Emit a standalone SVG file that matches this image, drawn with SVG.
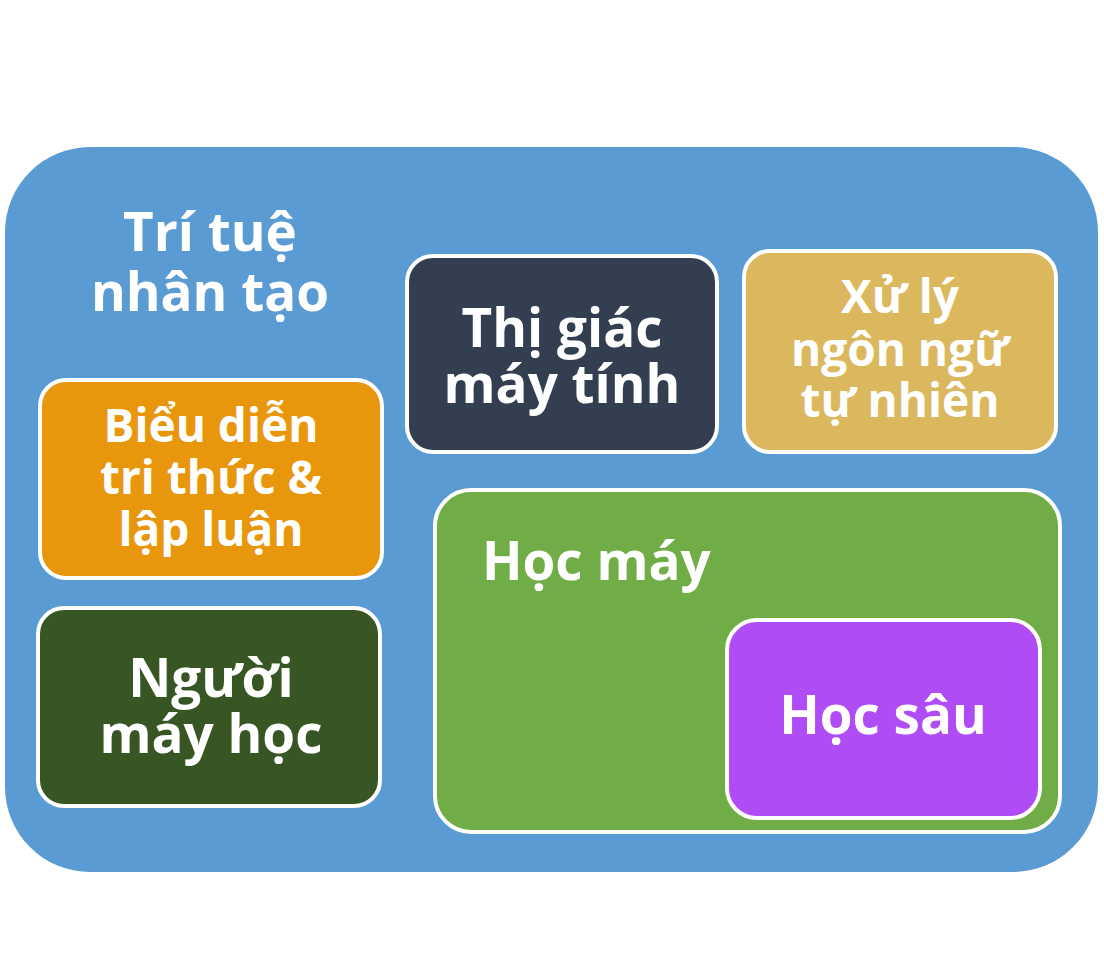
<svg xmlns="http://www.w3.org/2000/svg" width="1104" height="976" viewBox="0 0 1104 976">
<style>
.t{font-family:"Open Sans","Noto Sans","DejaVu Sans",sans-serif;font-weight:700;fill:#ffffff;text-anchor:middle}
.n{stroke:#ffffff;stroke-width:4}
</style>
<rect width="1104" height="976" fill="#ffffff"/>
<g id="ai">
<rect x="5" y="147" width="1093" height="725" rx="85" fill="#5b9bd3"/>
<text class="t" font-size="53" x="210" y="251">Trí tuệ</text>
<text class="t" font-size="53" x="210" y="311">nhân tạo</text>
</g>
<g id="knowledge">
<rect class="n" x="40" y="380" width="342" height="198" rx="26" fill="#e8960c"/>
<text class="t" font-size="46" x="211" y="442">Biểu diễn</text>
<text class="t" font-size="46" x="211" y="494">tri thức &amp;</text>
<text class="t" font-size="46" x="211" y="546">lập luận</text>
</g>
<g id="robotics">
<rect class="n" x="38" y="608" width="342" height="198" rx="26" fill="#375623"/>
<text class="t" font-size="53" x="211" y="697">Người</text>
<text class="t" font-size="53" x="211" y="753">máy học</text>
</g>
<g id="vision">
<rect class="n" x="407" y="256" width="310" height="196" rx="26" fill="#333f50"/>
<text class="t" font-size="53" x="562" y="347">Thị giác</text>
<text class="t" font-size="53" x="562" y="403">máy tính</text>
</g>
<g id="nlp">
<rect class="n" x="744" y="251" width="312" height="201" rx="26" fill="#dbb85e"/>
<text class="t" font-size="46" x="900" y="313">Xử lý</text>
<text class="t" font-size="46" x="900" y="366">ngôn ngữ</text>
<text class="t" font-size="46" x="900" y="417">tự nhiên</text>
</g>
<g id="ml">
<rect class="n" x="435" y="490" width="625" height="342" rx="36" fill="#70ad47"/>
<text class="t" font-size="53" x="482" y="580" style="text-anchor:start">Học máy</text>
</g>
<g id="dl">
<rect class="n" x="727" y="620" width="313" height="198" rx="30" fill="#b04cf6"/>
<text class="t" font-size="53" x="883" y="734">Học sâu</text>
</g>
<g id="connectors"/>
</svg>
